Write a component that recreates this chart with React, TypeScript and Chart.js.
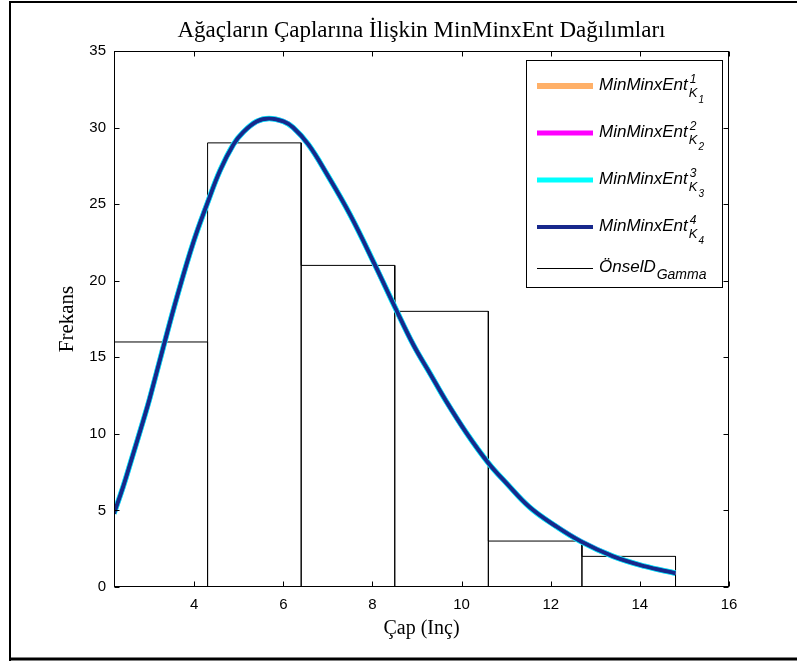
import React, { useEffect, useRef } from "react";
import { Chart, registerables } from "chart.js";

Chart.register(...registerables);

const TITLE = "Ağaçların Çaplarına İlişkin MinMinxEnt Dağılımları";
const X_LABEL = "Çap (Inç)";
const Y_LABEL = "Frekans";

const xTicks = [4, 6, 8, 10, 12, 14, 16];
const yTicks = [0, 5, 10, 15, 20, 25, 30, 35];

// histogram (ÖnselD_Gamma)
const binEdges = [2.2, 4.3, 6.4, 8.5, 10.6, 12.7, 14.8];
const binCounts = [16, 29, 21, 18, 3, 2];

// fitted curves
const curveX = [2.2, 2.4, 2.6, 2.86, 3.0, 3.31, 3.61, 3.98, 4.3, 4.58, 4.88, 5.1, 5.4, 5.68, 6.0, 6.22, 6.56, 6.97, 7.5, 8.06, 8.5, 8.92, 9.3, 9.66, 10.1, 10.6, 11.0, 11.53, 12.1, 12.69, 13.4, 14.1, 14.8];
const k1Values = [4.8, 6.5, 8.4, 10.9, 12.3, 15.7, 18.9, 22.5, 25.1, 27.2, 28.9, 29.7, 30.4, 30.6, 30.4, 30.0, 28.9, 27.0, 24.3, 21.0, 18.3, 15.8, 13.9, 12.1, 10.1, 8.1, 6.8, 5.2, 4.0, 2.95, 2.0, 1.36, 0.9];
const k2Values = [4.8, 6.5, 8.4, 10.9, 12.3, 15.7, 18.9, 22.5, 25.1, 27.2, 28.9, 29.7, 30.4, 30.6, 30.4, 30.0, 28.9, 27.0, 24.3, 21.0, 18.3, 15.8, 13.9, 12.1, 10.1, 8.1, 6.8, 5.2, 4.0, 2.95, 2.0, 1.36, 0.9];
const k3Values = [4.8, 6.5, 8.4, 10.9, 12.3, 15.7, 18.9, 22.5, 25.1, 27.2, 28.9, 29.7, 30.4, 30.6, 30.4, 30.0, 28.9, 27.0, 24.3, 21.0, 18.3, 15.8, 13.9, 12.1, 10.1, 8.1, 6.8, 5.2, 4.0, 2.95, 2.0, 1.36, 0.9];
const k4Values = [4.8, 6.5, 8.4, 10.9, 12.3, 15.7, 18.9, 22.5, 25.1, 27.2, 28.9, 29.7, 30.4, 30.6, 30.4, 30.0, 28.9, 27.0, 24.3, 21.0, 18.3, 15.8, 13.9, 12.1, 10.1, 8.1, 6.8, 5.2, 4.0, 2.95, 2.0, 1.36, 0.9];

const seriesBase = ["MinMinxEnt", "MinMinxEnt", "MinMinxEnt", "MinMinxEnt"];
const seriesSup = ["1", "2", "3", "4"];
const seriesSubSub = ["1", "2", "3", "4"];
const seriesColors = ["#ffb068", "#ff00ff", "#00ffff", "#17288c"];
const legendWidths = [6, 5, 5, 4];
const histLabel = "ÖnselD";
const histSub = "Gamma";

const SANS = '"Liberation Sans", Arial, sans-serif';
const SERIF = '"Liberation Serif", "Times New Roman", serif';

const pts = (ys: number[]) => curveX.map((x, i) => ({ x, y: ys[i] }));

function histPoints() {
  const p: { x: number; y: number }[] = [{ x: binEdges[0], y: 0 }];
  binCounts.forEach((c, i) => {
    p.push({ x: binEdges[i], y: c }, { x: binEdges[i + 1], y: c }, { x: binEdges[i + 1], y: 0 });
  });
  return p;
}

const decor = {
  id: "decor",
  afterDraw(chart: any) {
    const ctx = chart.ctx as CanvasRenderingContext2D;
    const { left, right, top, bottom } = chart.chartArea;
    const xs = chart.scales.x;
    const ys = chart.scales.y;
    ctx.save();
    ctx.strokeStyle = "#000";
    ctx.fillStyle = "#000";

    // figure frame
    ctx.lineWidth = 2;
    ctx.beginPath();
    ctx.moveTo(10, 661);
    ctx.lineTo(10, 2);
    ctx.lineTo(797, 2);
    ctx.stroke();
    ctx.lineWidth = 3;
    ctx.beginPath();
    ctx.moveTo(9, 659);
    ctx.lineTo(797, 659);
    ctx.stroke();

    // axes box
    ctx.lineWidth = 1;
    const L = Math.round(left) + 0.5;
    const R = Math.round(right) - 0.5;
    const T = Math.round(top) + 0.5;
    const B = Math.round(bottom) - 0.5;
    ctx.strokeRect(L, T, R - L, B - T);

    // inward ticks
    const tl = 5;
    ctx.beginPath();
    xTicks.forEach((v) => {
      const px = Math.round(xs.getPixelForValue(v)) + 0.5;
      ctx.moveTo(px, B);
      ctx.lineTo(px, B - tl);
      ctx.moveTo(px, T);
      ctx.lineTo(px, T + tl);
    });
    yTicks.forEach((v) => {
      const py = Math.round(ys.getPixelForValue(v)) + 0.5;
      ctx.moveTo(L, py);
      ctx.lineTo(L + tl, py);
      ctx.moveTo(R, py);
      ctx.lineTo(R - tl, py);
    });
    ctx.stroke();

    // title
    ctx.font = `23px ${SERIF}`;
    ctx.textAlign = "center";
    ctx.textBaseline = "alphabetic";
    ctx.fillText(TITLE, (left + right) / 2, 37);

    // x label
    ctx.font = `20px ${SERIF}`;
    ctx.fillText(X_LABEL, (left + right) / 2, 634);

    // y label
    ctx.save();
    ctx.translate(73, (top + bottom) / 2);
    ctx.rotate(-Math.PI / 2);
    ctx.font = `21px ${SERIF}`;
    ctx.fillText(Y_LABEL, 0, 0);
    ctx.restore();

    // legend
    const lx = 526, ly = 60, lw = 196, lh = 227;
    ctx.fillStyle = "#fff";
    ctx.fillRect(lx, ly, lw, lh);
    ctx.strokeStyle = "#000";
    ctx.lineWidth = 1;
    ctx.strokeRect(lx + 0.5, ly + 0.5, lw, lh);
    ctx.textAlign = "left";
    const rowY = [86, 133, 180, 227, 268];
    for (let i = 0; i < 4; i++) {
      const y = rowY[i];
      ctx.strokeStyle = seriesColors[i];
      ctx.lineWidth = legendWidths[i];
      ctx.beginPath();
      ctx.moveTo(537, y);
      ctx.lineTo(593, y);
      ctx.stroke();
      ctx.fillStyle = "#000";
      ctx.font = `italic 17px ${SANS}`;
      ctx.fillText(seriesBase[i], 599, y + 4);
      const w = ctx.measureText(seriesBase[i]).width;
      const sx = 599 + w + 1;
      ctx.font = `italic 12px ${SANS}`;
      ctx.fillText(seriesSup[i], sx + 1, y - 3);
      ctx.font = `italic 13px ${SANS}`;
      ctx.fillText("K", sx, y + 11);
      const kw = ctx.measureText("K").width;
      ctx.font = `italic 10px ${SANS}`;
      ctx.fillText(seriesSubSub[i], sx + kw + 1, y + 17);
    }
    {
      const y = rowY[4];
      ctx.strokeStyle = "#000";
      ctx.lineWidth = 1;
      ctx.beginPath();
      ctx.moveTo(537, y + 0.5);
      ctx.lineTo(593, y + 0.5);
      ctx.stroke();
      ctx.fillStyle = "#000";
      ctx.font = `italic 17px ${SANS}`;
      ctx.fillText(histLabel, 599, y + 4);
      const w = ctx.measureText(histLabel).width;
      ctx.font = `italic 14px ${SANS}`;
      ctx.fillText(histSub, 599 + w + 1, y + 11);
    }
    ctx.restore();
  },
};

export default function App() {
  const ref = useRef<HTMLCanvasElement | null>(null);
  useEffect(() => {
    if (!ref.current) return;
    const curveCommon = {
      pointRadius: 0,
      fill: false,
      tension: 0.4,
    };
    const chart = new Chart(ref.current, {
      type: "line",
      data: {
        datasets: [
          { label: "K4", data: pts(k4Values), borderColor: seriesColors[3], borderWidth: 4, ...curveCommon },
          { label: "K3", data: pts(k3Values), borderColor: seriesColors[2], borderWidth: 5.5, ...curveCommon },
          { label: "K2", data: pts(k2Values), borderColor: seriesColors[1], borderWidth: 5, ...curveCommon },
          { label: "K1", data: pts(k1Values), borderColor: seriesColors[0], borderWidth: 4.5, ...curveCommon },
          { label: "Gamma", data: histPoints(), borderColor: "#000", borderWidth: 1, pointRadius: 0, tension: 0, fill: false },
        ],
      },
      options: {
        animation: false,
        responsive: false,
        layout: { padding: { top: 51, right: 68, bottom: 0, left: 0 } },
        plugins: { legend: { display: false }, tooltip: { enabled: false }, title: { display: false } },
        scales: {
          x: {
            type: "linear",
            min: 2.2,
            max: 16,
            grid: { display: false, drawTicks: false },
            border: { display: false },
            afterBuildTicks: (s: any) => {
              s.ticks = xTicks.map((v) => ({ value: v }));
            },
            afterFit: (s: any) => {
              s.height = 74;
            },
            ticks: {
              color: "#000",
              font: { family: SANS, size: 15 },
              padding: 9,
              autoSkip: false,
              maxRotation: 0,
            },
          },
          y: {
            type: "linear",
            min: 0,
            max: 35,
            grid: { display: false, drawTicks: false },
            border: { display: false },
            afterBuildTicks: (s: any) => {
              s.ticks = yTicks.map((v) => ({ value: v }));
            },
            afterFit: (s: any) => {
              s.width = 114;
            },
            ticks: {
              color: "#000",
              font: { family: SANS, size: 15 },
              padding: 8,
              autoSkip: false,
            },
          },
        },
      },
      plugins: [decor],
    });
    return () => chart.destroy();
  }, []);
  return (
    <div style={{ position: "absolute", left: 0, top: 0, width: 797, height: 661, background: "#fff" }}>
      <canvas ref={ref} width={797} height={661} style={{ display: "block" }} />
    </div>
  );
}
